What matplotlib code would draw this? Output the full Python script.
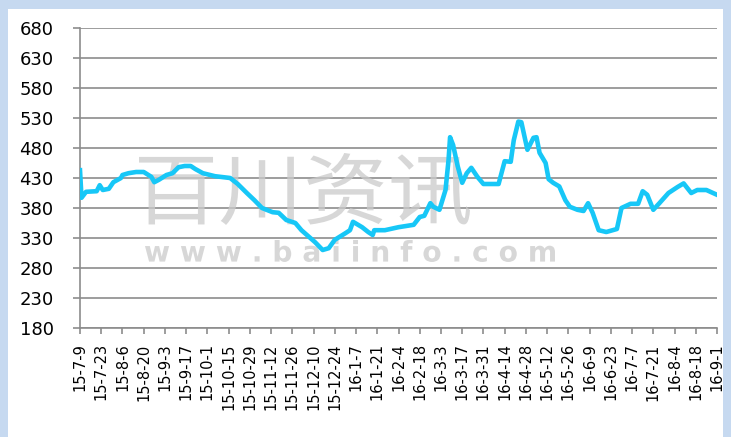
import numpy as np
import matplotlib
matplotlib.use('Agg')
import matplotlib.pyplot as plt
from matplotlib.textpath import TextPath
from matplotlib.patches import PathPatch, Rectangle
from matplotlib.font_manager import FontProperties
from matplotlib.transforms import Affine2D

# price series
dates = ['2015-07-09', '2015-07-10', '2015-07-13', '2015-07-20', '2015-07-22', '2015-07-24',
         '2015-07-28', '2015-07-31', '2015-08-05', '2015-08-06', '2015-08-10', '2015-08-15',
         '2015-08-20', '2015-08-25', '2015-08-27', '2015-08-30', '2015-09-04', '2015-09-08',
         '2015-09-12', '2015-09-16', '2015-09-20', '2015-09-23', '2015-09-28', '2015-10-06',
         '2015-10-16', '2015-10-21', '2015-10-27', '2015-11-01', '2015-11-06', '2015-11-13',
         '2015-11-17', '2015-11-22', '2015-11-28', '2015-12-02', '2015-12-11', '2015-12-16',
         '2015-12-20', '2015-12-24', '2015-12-31', '2016-01-03', '2016-01-05', '2016-01-11',
         '2016-01-15', '2016-01-18', '2016-01-19', '2016-01-26', '2016-02-04', '2016-02-14',
         '2016-02-18', '2016-02-21', '2016-02-25', '2016-02-27', '2016-03-02', '2016-03-06',
         '2016-03-08', '2016-03-09', '2016-03-11', '2016-03-14', '2016-03-17', '2016-03-20',
         '2016-03-23', '2016-03-27', '2016-03-31', '2016-04-10', '2016-04-14', '2016-04-18',
         '2016-04-20', '2016-04-23', '2016-04-25', '2016-04-29', '2016-05-03', '2016-05-05',
         '2016-05-07', '2016-05-11', '2016-05-13', '2016-05-16', '2016-05-20', '2016-05-24',
         '2016-05-27', '2016-06-01', '2016-06-05', '2016-06-08', '2016-06-11', '2016-06-15',
         '2016-06-20', '2016-06-27', '2016-06-30', '2016-07-06', '2016-07-11', '2016-07-14',
         '2016-07-17', '2016-07-21', '2016-07-25', '2016-07-31', '2016-08-06', '2016-08-10',
         '2016-08-15', '2016-08-19', '2016-08-25', '2016-09-01']
prices = [443, 397, 407, 408, 418, 410,
          412, 423, 430, 435, 438, 440,
          440, 432, 423, 427, 435, 438,
          448, 450, 450, 445, 438, 433,
          430, 420, 405, 393, 380, 373,
          372, 360, 355, 343, 323, 310,
          313, 327, 338, 343, 357, 348,
          340, 335, 343, 343, 348, 352,
          365, 367, 388, 382, 377, 410,
          460, 498, 485, 450, 422, 438,
          447, 432, 420, 420, 458, 457,
          493, 524, 523, 477, 497, 498,
          472, 455, 428, 422, 416, 393,
          382, 377, 375, 388, 372, 343,
          340, 345, 380, 387, 387, 408,
          402, 377, 388, 405, 415, 421,
          405, 410, 410, 402]

tick_labels = ['15-7-9', '15-7-23', '15-8-6', '15-8-20', '15-9-3', '15-9-17', '15-10-1',
               '15-10-15', '15-10-29', '15-11-12', '15-11-26', '15-12-10', '15-12-24',
               '16-1-7', '16-1-21', '16-2-4', '16-2-18', '16-3-3', '16-3-17', '16-3-31',
               '16-4-14', '16-4-28', '16-5-12', '16-5-26', '16-6-9', '16-6-23', '16-7-7',
               '16-7-21', '16-8-4', '16-8-18', '16-9-1']
y_ticks = [180, 230, 280, 330, 380, 430, 480, 530, 580, 630, 680]


def label_date(s):
    y, m, d = s.split('-')
    return np.datetime64(f'20{y}-{int(m):02d}-{int(d):02d}')


x = np.array(dates, dtype='datetime64[D]')
tick_pos = [label_date(s) for s in tick_labels]

W, H = 731, 437
grey = '#8C8C8C'

fig = plt.figure(figsize=(W / 100, H / 100), dpi=100, facecolor='#C6D9F0')
fig.add_artist(Rectangle((8 / W, 0), (723 - 8) / W, (H - 9) / H, transform=fig.transFigure,
                         facecolor='white', edgecolor='none', zorder=-1))

ax = fig.add_axes([80 / W, 109 / H, 637 / W, 300 / H])
ax.plot(x, prices, color='#17C7F7', lw=3.3, solid_joinstyle='round', zorder=3)

ax.set_xlim(tick_pos[0], tick_pos[-1])
ax.set_xticks(tick_pos)
ax.set_xticklabels(tick_labels, rotation=90)
ax.set_ylim(180, 680)
ax.set_yticks(y_ticks)

ax.grid(axis='y', color=grey, lw=1.2)
ax.set_axisbelow(True)
for side in ['top', 'right']:
    ax.spines[side].set_visible(False)
for side in ['left', 'bottom']:
    ax.spines[side].set_color(grey)
    ax.spines[side].set_linewidth(1.2)
ax.tick_params(axis='y', length=5, width=1.2, color=grey, pad=14, labelsize=13)
ax.tick_params(axis='x', length=4, width=1.2, color=grey, pad=7, labelsize=10.5)


# watermark, fitted into a pixel box (x0, y0, x1, y1 from top-left)
def stamp(txt, box, family, weight='normal'):
    tp = TextPath((0, 0), txt, size=100, prop=FontProperties(family=family, weight=weight))
    bb = tp.get_extents()
    x0, y0, x1, y1 = box
    tr = (Affine2D().translate(-bb.x0, -bb.y0)
          .scale((x1 - x0) / bb.width, (y1 - y0) / bb.height)
          .translate(x0, H - y1))
    ax.add_patch(PathPatch(tp, transform=tr, facecolor='#CACACA', edgecolor='none',
                           alpha=0.75, zorder=0.6))


stamp('百川资讯', (139, 153, 470, 225), 'Noto Sans CJK SC')
stamp('w w w . b a i i n f o . c o m', (145, 240, 555, 262), 'DejaVu Sans', 'bold')

fig.savefig('out.png', dpi=100, facecolor=fig.get_facecolor())
